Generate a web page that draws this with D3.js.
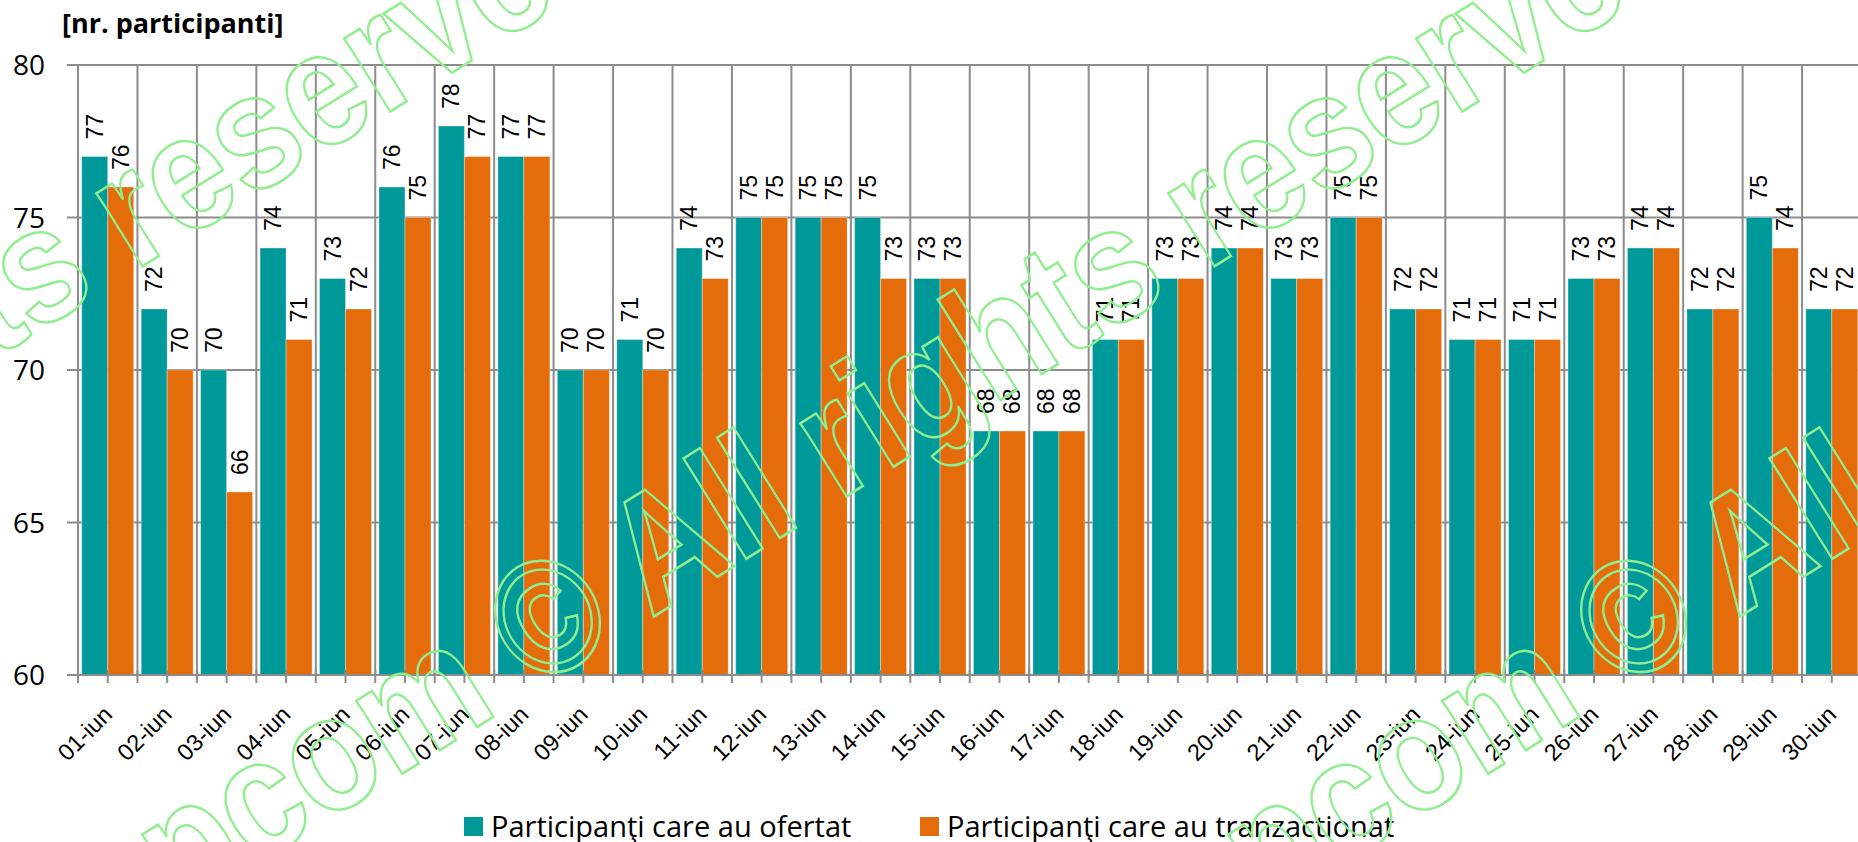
<!DOCTYPE html>
<html>
<head>
<meta charset="utf-8">
<script src="https://cdn.jsdelivr.net/npm/d3@7"></script>
<style>
  html, body { margin: 0; padding: 0; background: #fff; }
  svg { display: block; }
</style>
</head>
<body>
<script>
const categories = ["01-iun","02-iun","03-iun","04-iun","05-iun","06-iun","07-iun","08-iun","09-iun","10-iun",
  "11-iun","12-iun","13-iun","14-iun","15-iun","16-iun","17-iun","18-iun","19-iun","20-iun",
  "21-iun","22-iun","23-iun","24-iun","25-iun","26-iun","27-iun","28-iun","29-iun","30-iun"];
const ofertat = [77,72,70,74,73,76,78,77,70,71,74,75,75,75,73,68,68,71,73,74,73,75,72,71,71,73,74,72,75,72];
const tranzactionat = [76,70,66,71,72,75,77,77,70,70,73,75,75,73,73,68,68,71,73,74,73,75,72,71,71,73,74,72,74,72];
const yTicks = [60,65,70,75,80];
const seriesNames = ["Participanţi care au ofertat", "Participanţi care au tranzactionat"];
const unitLabel = "[nr. participanti]";
const watermarkText = "© All rights reserved";
const watermarkPrefix = "opcom";

(function () {
const W = 1858, H = 842;
const colors = ["#009999", "#E46C0A"];
const gridColor = "#8c8c8c";

const svg = d3.select("body").append("svg").attr("width", W).attr("height", H);

const pLeft = 78, pTop = 65, pBottom = 675, band = 59.45;
const x = d3.scaleBand().domain(categories).range([pLeft, pLeft + band * categories.length]).padding(0);
const y = d3.scaleLinear().domain([60, 80]).range([pBottom, pTop]);
const pRight = pLeft + band * categories.length;

// horizontal gridlines with left stubs
svg.append("g").selectAll("line").data(yTicks).join("line")
  .attr("x1", 67).attr("x2", pRight)
  .attr("y1", d => y(d)).attr("y2", d => y(d))
  .attr("stroke", gridColor).attr("stroke-width", 2);

// vertical gridlines at category boundaries
const bounds = categories.map(c => x(c));
svg.append("g").selectAll("line").data(bounds).join("line")
  .attr("x1", d => d).attr("x2", d => d)
  .attr("y1", pTop).attr("y2", pBottom)
  .attr("stroke", gridColor).attr("stroke-width", 2);

// bars
const groupW = 52;
const barW = groupW / 2;
const series = [ofertat, tranzactionat];
series.forEach((vals, si) => {
  svg.append("g").selectAll("rect").data(vals).join("rect")
    .attr("x", (d, i) => x(categories[i]) + x.bandwidth() / 2 - groupW / 2 + si * barW)
    .attr("width", barW)
    .attr("y", d => y(d))
    .attr("height", d => y(60) - y(d))
    .attr("fill", colors[si])
    .attr("stroke", "rgba(255,255,255,0.35)").attr("stroke-width", 1);
});

// bottom axis line
svg.append("line").attr("x1", pLeft).attr("x2", pRight).attr("y1", pBottom).attr("y2", pBottom)
  .attr("stroke", gridColor).attr("stroke-width", 2);

// tick marks at boundaries and centers
const tickPos = [];
categories.forEach(c => { tickPos.push(x(c)); tickPos.push(x(c) + x.bandwidth() / 2); });
svg.append("g").selectAll("line").data(tickPos).join("line")
  .attr("x1", d => d).attr("x2", d => d).attr("y1", 670).attr("y2", 683)
  .attr("stroke", gridColor).attr("stroke-width", 2);

// data labels
series.forEach((vals, si) => {
  svg.append("g").selectAll("text").data(vals).join("text")
    .attr("transform", (d, i) => {
      const cx = x(categories[i]) + x.bandwidth() / 2 - groupW / 2 + si * barW + barW / 2;
      return `translate(${cx},${y(d) - 17}) rotate(-90)`;
    })
    .attr("text-anchor", "start")
    .attr("dominant-baseline", "central")
    .attr("font-family", "'Liberation Sans', Arial, sans-serif")
    .attr("font-size", 23)
    .attr("fill", "#000")
    .text(d => d);
});

// y axis labels
const yAxis = d3.axisLeft(y).tickValues(yTicks).tickSize(0).tickPadding(0);
const gy = svg.append("g").attr("transform", "translate(45,0)").call(yAxis);
gy.select(".domain").remove();
gy.selectAll("text")
  .attr("font-family", "'Open Sans', sans-serif")
  .attr("font-size", 28).attr("fill", "#000").attr("dy", "0.35em");

// x axis labels
const xAxis = d3.axisBottom(x).tickSize(0).tickPadding(0);
const gx = svg.append("g").attr("transform", `translate(0,${pBottom})`).call(xAxis);
gx.select(".domain").remove();
gx.selectAll("text")
  .attr("font-family", "'Liberation Sans', Arial, sans-serif")
  .attr("font-size", 23.5).attr("fill", "#000")
  .attr("text-anchor", "end")
  .attr("dy", null).attr("y", null)
  .attr("transform", "translate(6,41) rotate(-45)");

// unit label
svg.append("text").attr("x", 62).attr("y", 33)
  .attr("font-family", "'Open Sans', sans-serif").attr("font-weight", "bold")
  .attr("font-size", 27).attr("fill", "#000").text(unitLabel);

// legend
const legendX = [464, 920];
seriesNames.forEach((name, i) => {
  svg.append("rect").attr("x", legendX[i]).attr("y", 817).attr("width", 19).attr("height", 19)
    .attr("fill", colors[i]);
  svg.append("text").attr("x", legendX[i] + 27).attr("y", 837)
    .attr("font-family", "'Open Sans', sans-serif").attr("font-size", 29).attr("fill", "#000")
    .text(name);
});

// watermark
const wmCenters = [-525, 547, 1633];
wmCenters.forEach(cx => {
  const g = svg.append("g").attr("transform", `translate(${cx - 14},${630 + 62}) rotate(-32) scale(1,1.15)`);
  g.append("text").attr("x", 0).attr("y", 0)
    .attr("font-family", "'Liberation Sans', Arial, sans-serif").attr("font-weight", "bold")
    .attr("font-size", 142).attr("fill", "none").attr("stroke", "#90EE90").attr("stroke-width", 2.2)
    .text(watermarkText);
  g.append("text").attr("x", -38).attr("y", 0).attr("text-anchor", "end")
    .attr("font-family", "'Liberation Sans', Arial, sans-serif").attr("font-weight", "bold")
    .attr("font-size", 142).attr("fill", "none").attr("stroke", "#90EE90").attr("stroke-width", 2.2)
    .text(watermarkPrefix);
});
})();
</script>
</body>
</html>
